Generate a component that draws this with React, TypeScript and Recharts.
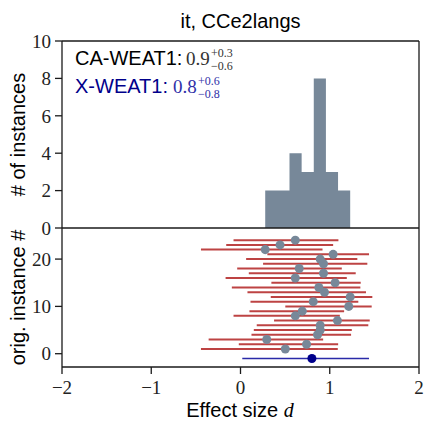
import { ComposedChart, ScatterChart, Area, Scatter, ErrorBar, XAxis, YAxis, ZAxis, ReferenceLine } from "recharts"

const SANS = "'Liberation Sans', Arial, sans-serif"
const SERIF = "'Liberation Serif', 'DejaVu Serif', serif"
const INK = "#1a1a1a"

// x axis (shared)
const xTicks = [-2, -1, 0, 1, 2]

// histogram (top panel)
const binEdges = [0.277, 0.413, 0.549, 0.685, 0.821, 0.957, 1.093, 1.229]
const binCounts = [2, 2, 4, 3, 8, 3, 2]
const countTicks = [0, 2, 4, 6, 8, 10]

// per-instance effect sizes (bottom panel), instance 1 at the bottom
const rows = [1, 2, 3, 4, 5, 6, 7, 8, 9, 10, 11, 12, 13, 14, 15, 16, 17, 18, 19, 20, 21, 22, 23, 24]
const effect = [0.502, 0.74, 0.294, 0.863, 0.893, 0.893, 1.086, 0.614, 0.692, 1.213, 0.815, 1.229, 0.941, 0.878, 1.06, 0.614, 0.93, 0.658, 0.93, 0.893, 1.038, 0.277, 0.443, 0.614]
const effectLow = [-0.443, -0.019, -0.357, 0.123, 0.149, 0.182, 0.376, -0.078, 0.1, 0.502, 0.112, 0.339, 0.078, -0.097, 0.346, -0.167, 0.093, -0.037, 0.253, 0.063, 0.301, -0.443, -0.16, -0.078]
const effectHigh = [1.09, 1.094, 0.926, 1.239, 1.247, 1.432, 1.448, 1.113, 1.161, 1.47, 1.32, 1.477, 1.406, 1.343, 1.347, 1.191, 1.291, 1.135, 1.421, 1.309, 1.44, 0.919, 1.038, 1.097]
const rowTicks = [0, 10, 20]

// cross-lingual summary row
const xRow = [-1]
const xEffect = [0.8]
const xLow = [0.02]
const xHigh = [1.44]

const histData = binEdges.map((x, i) => ({ x, count: binCounts[Math.min(i, binCounts.length - 1)] }))
const instData = rows.map((row, i) => ({ row, d: effect[i], err: [effect[i] - effectLow[i], effectHigh[i] - effect[i]] }))
const xData = xRow.map((row, i) => ({ row, d: xEffect[i], err: [xEffect[i] - xLow[i], xHigh[i] - xEffect[i]] }))

const fmt = (v: number) => (v < 0 ? "\u2212" + Math.abs(v) : String(v))
const axisStyle = { stroke: INK, strokeWidth: 1.3 }
const tickFont = { fontFamily: SERIF, fontSize: 19, fill: "#222" }

export default function App() {
  return (
    <div style={{ position: "absolute", left: 0, top: 0, width: 425, height: 421, background: "#fff" }}>
      {/* histogram */}
      <div style={{ position: "absolute", left: 0, top: 0 }}>
        <ComposedChart width={425} height={245} data={histData} margin={{ top: 41, right: 6, bottom: 17, left: 0 }}>
          <XAxis type="number" dataKey="x" domain={[-2, 2]} ticks={xTicks} allowDataOverflow hide />
          <YAxis type="number" domain={[0, 10]} ticks={countTicks} interval={0} allowDataOverflow
            width={62} tickSize={7} tickMargin={4} tick={tickFont} tickLine={axisStyle} axisLine={axisStyle} />
          <Area type="stepAfter" dataKey="count" fill="#778899" fillOpacity={1} stroke="none" isAnimationActive={false} />
          <ReferenceLine x={2} stroke={INK} strokeWidth={1.3} />
          <ReferenceLine y={10} stroke={INK} strokeWidth={1.3} />
          <ReferenceLine y={0} stroke={INK} strokeWidth={1.3} />
        </ComposedChart>
      </div>

      {/* per-instance effect sizes */}
      <div style={{ position: "absolute", left: 0, top: 226 }}>
        <ScatterChart width={425} height={195} margin={{ top: 2, right: 6, bottom: 24, left: 0 }}>
          <XAxis type="number" dataKey="d" domain={[-2, 2]} ticks={xTicks} interval={0} allowDataOverflow
            height={30} tickSize={7} tickMargin={7} tickFormatter={fmt} tick={tickFont}
            tickLine={axisStyle} axisLine={axisStyle} />
          <YAxis type="number" dataKey="row" domain={[-2.81, 26.57]} ticks={rowTicks} interval={0} allowDataOverflow
            width={62} tickSize={7} tickMargin={4} tick={tickFont} tickLine={axisStyle} axisLine={axisStyle} />
          <ZAxis range={[40, 40]} />
          <ReferenceLine x={2} stroke={INK} strokeWidth={1.3} />
          <Scatter data={instData} fill="#778899" isAnimationActive={false}>
            <ErrorBar dataKey="err" direction="x" width={0} stroke="#b22222" strokeOpacity={0.85} strokeWidth={2} isAnimationActive={false} />
          </Scatter>
          <Scatter data={xData} fill="#00008b" isAnimationActive={false}>
            <ErrorBar dataKey="err" direction="x" width={0} stroke="#2a2aa8" strokeWidth={1.5} isAnimationActive={false} />
          </Scatter>
        </ScatterChart>
      </div>

      {/* titles and annotations */}
      <svg width={425} height={421} style={{ position: "absolute", left: 0, top: 0, pointerEvents: "none" }}>
        <text x={240.5} y={28} textAnchor="middle" fontFamily={SANS} fontSize={20} fill="#000">it, CCe2langs</text>
        <text transform="translate(25,134.5) rotate(-90)" textAnchor="middle" fontFamily={SANS} fontSize={20} fill="#000"># of instances</text>
        <text transform="translate(25,297.5) rotate(-90)" textAnchor="middle" fontFamily={SANS} fontSize={20} fill="#000">orig. instance #</text>
        <text x={240} y={417} textAnchor="middle" fontFamily={SANS} fontSize={20} fill="#000">
          Effect size <tspan fontFamily={SERIF} fontStyle="italic">d</tspan>
        </text>

        <text x={75} y={64.5} fontFamily={SANS} fontSize={20} fill="#000">CA-WEAT1:</text>
        <text x={186} y={64.5} fontFamily={SERIF} fontSize={19} fill="#333">0.9</text>
        <text x={211} y={56.5} fontFamily={SERIF} fontSize={12} fill="#333">+0.3</text>
        <text x={211} y={69.5} fontFamily={SERIF} fontSize={12} fill="#333">{"\u2212"}0.6</text>

        <text x={75} y={92.5} fontFamily={SANS} fontSize={20} fill="#00008b">X-WEAT1:</text>
        <text x={173} y={92.5} fontFamily={SERIF} fontSize={19} fill="#3030a8">0.8</text>
        <text x={198} y={84.5} fontFamily={SERIF} fontSize={12} fill="#3030a8">+0.6</text>
        <text x={198} y={97.5} fontFamily={SERIF} fontSize={12} fill="#3030a8">{"\u2212"}0.8</text>
      </svg>
    </div>
  )
}
